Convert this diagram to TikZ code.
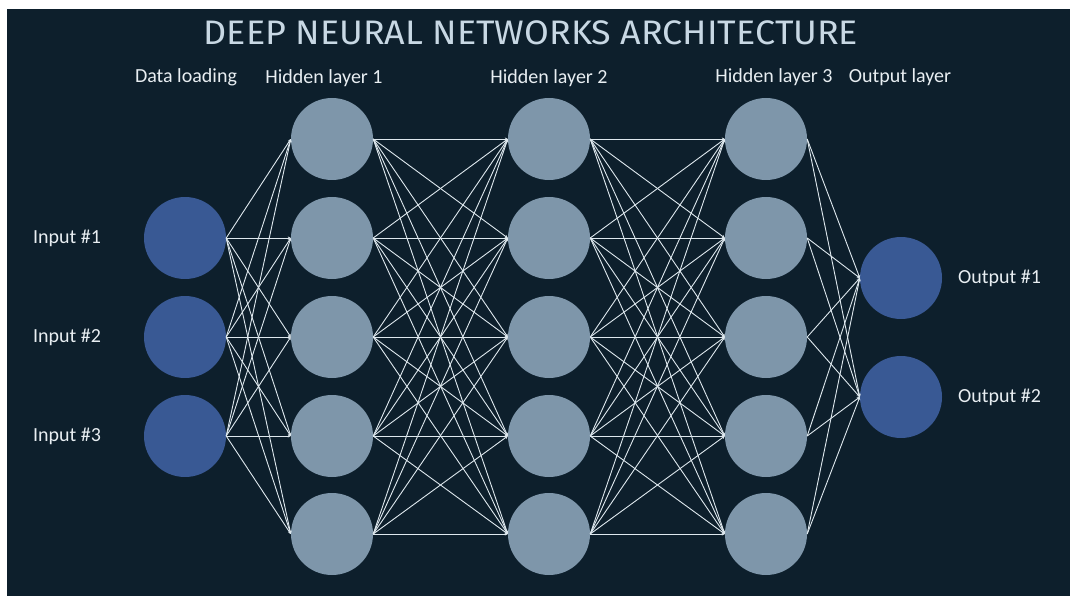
\documentclass[tikz,border=0pt]{standalone}
\usepackage{fontspec}
\setmainfont{Carlito}
\newfontfamily\titlefont[FakeStretch=1.055]{Fira Sans}
\usetikzlibrary{arrows.meta}
\definecolor{bgc}{RGB}{13,31,44}
\definecolor{inblue}{RGB}{57,89,148}
\definecolor{hidgray}{RGB}{126,150,170}
\definecolor{linec}{RGB}{222,232,238}
\definecolor{titlec}{RGB}{200,216,228}
\definecolor{labc}{RGB}{232,238,242}
\tikzset{
  inout/.style={circle,fill=inblue,minimum size=82pt,inner sep=0pt},
  hidden/.style={circle,fill=hidgray,minimum size=82pt,inner sep=0pt},
  conn/.style={draw=linec,line width=0.9pt,-{Stealth[length=3pt,width=3pt]}},
  lab/.style={text=labc,font=\fontsize{20}{23}\selectfont,inner sep=0pt},
  ttl/.style={text=titlec,font=\titlefont\fontsize{34}{38}\selectfont,inner sep=0pt}
}
\begin{document}
\begin{tikzpicture}[x=1pt,y=-1pt]
\useasboundingbox (0,0) rectangle (1070,596);
\fill[white] (0,0) rectangle (1070,596);
\fill[bgc] (7,9) rectangle (1070,596);
\node[ttl] (title) at (531,33) {DEEP NEURAL NETWORKS ARCHITECTURE};
\node[lab] (ldata) at (186,77) {Data loading};
\node[lab] (lh1) at (324,78) {Hidden layer 1};
\node[lab] (lh2) at (549,78) {Hidden layer 2};
\node[lab] (lh3) at (774,77) {Hidden layer 3};
\node[lab] (lout) at (900,77) {Output layer};
% input layer
\foreach \i/\y in {1/238,2/337,3/436}{
  \node[inout] (i\i) at (185,\y) {};
  \node[lab,anchor=west] (li\i) at (33,\y) {Input \#\i};
}
% hidden layers
\foreach \l/\x in {1/332,2/549,3/766}{
  \foreach \j/\y in {1/139,2/238,3/337,4/436,5/534}{
    \node[hidden] (h\l\j) at (\x,\y) {};
  }
}
% output layer
\foreach \k/\y in {1/278,2/397}{
  \node[inout] (o\k) at (901,\y) {};
  \node[lab,anchor=west] (lo\k) at (958,\y) {Output \#\k};
}
% connections
\foreach \i in {1,2,3}{\foreach \j in {1,...,5}{\draw[conn] (i\i.east) -- (h1\j.west);}}
\foreach \i in {1,...,5}{\foreach \j in {1,...,5}{
  \draw[conn] (h1\i.east) -- (h2\j.west);
  \draw[conn] (h2\i.east) -- (h3\j.west);}}
\foreach \i in {1,...,5}{\foreach \k in {1,2}{\draw[conn] (h3\i.east) -- (o\k.west);}}
\end{tikzpicture}
\end{document}
